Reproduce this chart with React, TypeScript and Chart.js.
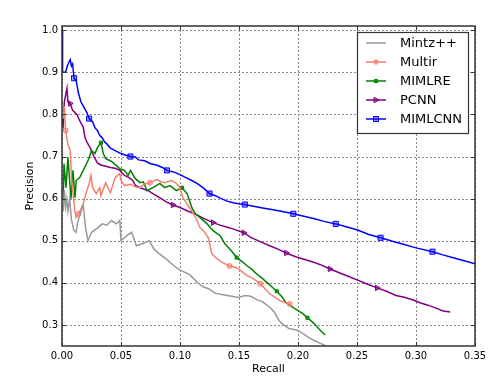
import React, { useEffect, useRef } from "react";
import { Chart, registerables } from "chart.js";

Chart.register(...registerables);

type P = [number, number];

const xTicks = [0, 0.05, 0.1, 0.15, 0.2, 0.25, 0.3, 0.35];
const yTicks = [0.3, 0.4, 0.5, 0.6, 0.7, 0.8, 0.9, 1.0];

const seriesNames = ["Mintz++", "Multir", "MIMLRE", "PCNN", "MIMLCNN"];

const mintz: P[] = [
  [0.001, 0.57], [0.002, 0.62], [0.003, 0.58], [0.004, 0.6], [0.005, 0.57], [0.0065, 0.6],
  [0.008, 0.55], [0.01, 0.525], [0.012, 0.52], [0.013, 0.54], [0.015, 0.56], [0.018, 0.585],
  [0.02, 0.53], [0.022, 0.5], [0.025, 0.52], [0.03, 0.53], [0.034, 0.54], [0.038, 0.537],
  [0.042, 0.548], [0.046, 0.54], [0.049, 0.548], [0.05, 0.5], [0.055, 0.512], [0.059, 0.52],
  [0.063, 0.488], [0.068, 0.493], [0.074, 0.5], [0.078, 0.48], [0.082, 0.47], [0.089, 0.455],
  [0.095, 0.44], [0.1, 0.43], [0.108, 0.42], [0.115, 0.4], [0.12, 0.39], [0.125, 0.385],
  [0.13, 0.375], [0.14, 0.37], [0.15, 0.365], [0.155, 0.37], [0.16, 0.368], [0.165, 0.36],
  [0.17, 0.355], [0.176, 0.342], [0.18, 0.33], [0.184, 0.31], [0.187, 0.302], [0.192, 0.292],
  [0.2, 0.287], [0.205, 0.278], [0.21, 0.268], [0.216, 0.26], [0.22, 0.255], [0.226, 0.247],
];

const multir: P[] = [
  [0.001, 0.79], [0.002, 0.82], [0.003, 0.762], [0.005, 0.73], [0.007, 0.714], [0.008, 0.65],
  [0.009, 0.62], [0.01, 0.595], [0.011, 0.57], [0.012, 0.555], [0.014, 0.564], [0.016, 0.575],
  [0.018, 0.588], [0.02, 0.61], [0.023, 0.636], [0.0245, 0.655], [0.026, 0.626], [0.029, 0.612],
  [0.032, 0.626], [0.033, 0.607], [0.037, 0.638], [0.041, 0.614], [0.045, 0.65], [0.049, 0.66],
  [0.05, 0.643], [0.053, 0.631], [0.058, 0.634], [0.062, 0.628], [0.066, 0.626], [0.07, 0.635],
  [0.0746, 0.638], [0.0805, 0.645], [0.084, 0.64], [0.087, 0.638], [0.093, 0.643], [0.097, 0.636],
  [0.1, 0.626], [0.1025, 0.602], [0.108, 0.579], [0.113, 0.557], [0.117, 0.531], [0.121, 0.52],
  [0.124, 0.507], [0.127, 0.469], [0.131, 0.458], [0.136, 0.448], [0.142, 0.44], [0.148, 0.436],
  [0.152, 0.428], [0.157, 0.417], [0.162, 0.41], [0.168, 0.398], [0.172, 0.386], [0.176, 0.374],
  [0.181, 0.365], [0.185, 0.357], [0.19, 0.352], [0.193, 0.35], [0.194, 0.345],
];

const mimlre: P[] = [
  [0.001, 0.595], [0.0017, 0.683], [0.0034, 0.626], [0.005, 0.698], [0.0076, 0.6], [0.0093, 0.667],
  [0.011, 0.602], [0.012, 0.643], [0.015, 0.65], [0.018, 0.667], [0.022, 0.69], [0.025, 0.714],
  [0.028, 0.707], [0.03, 0.721], [0.033, 0.733], [0.035, 0.707], [0.037, 0.695], [0.041, 0.69],
  [0.046, 0.679], [0.049, 0.671], [0.053, 0.667], [0.056, 0.655], [0.058, 0.667], [0.062, 0.648],
  [0.066, 0.638], [0.069, 0.64], [0.072, 0.619], [0.077, 0.626], [0.083, 0.636], [0.087, 0.626],
  [0.0915, 0.631], [0.097, 0.619], [0.1017, 0.626], [0.106, 0.612], [0.11, 0.579], [0.113, 0.564],
  [0.117, 0.555], [0.123, 0.54], [0.128, 0.524], [0.134, 0.512], [0.138, 0.493], [0.143, 0.478],
  [0.148, 0.46], [0.153, 0.45], [0.157, 0.44], [0.161, 0.432], [0.165, 0.421], [0.17, 0.41],
  [0.174, 0.4], [0.178, 0.39], [0.182, 0.38], [0.186, 0.368], [0.19, 0.352], [0.195, 0.343],
  [0.199, 0.336], [0.204, 0.327], [0.208, 0.317], [0.213, 0.305], [0.218, 0.29], [0.223, 0.276],
];

const pcnn: P[] = [
  [0, 0.79], [0.001, 0.774], [0.002, 0.83], [0.0042, 0.862], [0.005, 0.83], [0.0068, 0.826],
  [0.009, 0.81], [0.0127, 0.8], [0.015, 0.785], [0.018, 0.77], [0.0195, 0.745], [0.021, 0.735],
  [0.024, 0.72], [0.027, 0.7], [0.03, 0.685], [0.033, 0.68], [0.037, 0.677], [0.041, 0.674],
  [0.045, 0.672], [0.049, 0.667], [0.053, 0.655], [0.057, 0.65], [0.06, 0.643], [0.062, 0.632],
  [0.066, 0.626], [0.069, 0.623], [0.073, 0.619], [0.078, 0.61], [0.083, 0.602], [0.088, 0.593],
  [0.094, 0.585], [0.1, 0.579], [0.107, 0.57], [0.114, 0.562], [0.12, 0.553], [0.128, 0.543],
  [0.134, 0.537], [0.14, 0.532], [0.146, 0.527], [0.154, 0.519], [0.16, 0.508], [0.168, 0.498],
  [0.176, 0.488], [0.183, 0.48], [0.19, 0.471], [0.198, 0.462], [0.205, 0.456], [0.212, 0.45],
  [0.22, 0.442], [0.227, 0.433], [0.235, 0.424], [0.243, 0.415], [0.25, 0.407], [0.258, 0.398],
  [0.267, 0.388], [0.275, 0.38], [0.283, 0.37], [0.29, 0.366], [0.297, 0.36], [0.304, 0.352],
  [0.31, 0.347], [0.317, 0.34], [0.323, 0.333], [0.329, 0.331],
];

const mimlcnn: P[] = [
  [0, 1.0], [0.0005, 0.9], [0.003, 0.9], [0.0045, 0.915], [0.006, 0.925], [0.007, 0.93],
  [0.008, 0.915], [0.009, 0.92], [0.0102, 0.886], [0.012, 0.88], [0.014, 0.85], [0.016, 0.83],
  [0.019, 0.815], [0.021, 0.805], [0.023, 0.79], [0.026, 0.782], [0.028, 0.768], [0.03, 0.762],
  [0.032, 0.75], [0.034, 0.745], [0.036, 0.735], [0.038, 0.73], [0.041, 0.72], [0.045, 0.714],
  [0.048, 0.71], [0.05, 0.707], [0.054, 0.703], [0.058, 0.7], [0.062, 0.699], [0.065, 0.692],
  [0.07, 0.69], [0.075, 0.683], [0.08, 0.68], [0.085, 0.674], [0.089, 0.667], [0.095, 0.663],
  [0.1, 0.657], [0.105, 0.65], [0.11, 0.643], [0.115, 0.635], [0.12, 0.625], [0.125, 0.612],
  [0.13, 0.607], [0.135, 0.6], [0.14, 0.594], [0.145, 0.59], [0.15, 0.588], [0.155, 0.586],
  [0.16, 0.583], [0.17, 0.578], [0.18, 0.573], [0.188, 0.569], [0.196, 0.564], [0.205, 0.558],
  [0.214, 0.552], [0.222, 0.546], [0.232, 0.54], [0.24, 0.534], [0.25, 0.526], [0.26, 0.515],
  [0.27, 0.507], [0.28, 0.499], [0.29, 0.491], [0.3, 0.483], [0.314, 0.474], [0.322, 0.467],
  [0.33, 0.461], [0.34, 0.453], [0.35, 0.445],
];

// recall values at which a marker is drawn
const multirMarks = [0.003, 0.014, 0.0746, 0.142, 0.168, 0.193];
const mimlreMarks = [0.033, 0.1017, 0.148, 0.182, 0.208];
const pcnnMarks = [0.0068, 0.094, 0.128, 0.154, 0.19, 0.227, 0.267];
const mimlcnnMarks = [0.0102, 0.023, 0.058, 0.089, 0.125, 0.155, 0.196, 0.232, 0.27, 0.314];

const colors = ["#999999", "#f4806f", "#008000", "#800080", "#0000ff"];
const fills = [
  "rgba(153,153,153,0.5)",
  "rgba(250,128,114,0.5)",
  "rgba(0,128,0,0.5)",
  "rgba(128,0,128,0.5)",
  "rgba(0,0,255,0.4)",
];
const styles: any[] = ["line", "circle", "rect", "triangle", "rect"];
const rotations = [0, 0, 0, 90, 0];
const radii = [0, 2.5, 2.2, 3.2, 3.6];

function drawMarker(ctx: CanvasRenderingContext2D, i: number, x: number, y: number) {
  ctx.fillStyle = fills[i];
  ctx.strokeStyle = colors[i];
  ctx.lineWidth = 1;
  ctx.beginPath();
  if (styles[i] === "circle") {
    ctx.arc(x, y, 2.2, 0, Math.PI * 2);
  } else if (styles[i] === "rect") {
    const s = i === 4 ? 2.5 : 1.6;
    ctx.rect(x - s, y - s, 2 * s, 2 * s);
  } else if (styles[i] === "triangle") {
    ctx.moveTo(x + 3, y);
    ctx.lineTo(x - 2, y - 2.8);
    ctx.lineTo(x - 2, y + 2.8);
    ctx.closePath();
  }
  ctx.fill();
  ctx.stroke();
}

export default function App() {
  const ref = useRef<HTMLCanvasElement | null>(null);

  useEffect(() => {
    const canvas = ref.current;
    if (!canvas) return;
    const all = [mintz, multir, mimlre, pcnn, mimlcnn];
    const marks = [[] as number[], multirMarks, mimlreMarks, pcnnMarks, mimlcnnMarks];

    const datasets = all.map((s, i) => ({
      label: seriesNames[i],
      data: s.map(([x, y]) => ({ x, y })),
      borderColor: colors[i],
      backgroundColor: fills[i],
      pointBackgroundColor: fills[i],
      pointBorderColor: colors[i],
      pointBorderWidth: 1,
      pointStyle: i === 0 ? false : styles[i],
      pointRotation: rotations[i],
      pointRadius: (ctx: any) => {
        const raw = ctx.raw;
        if (!raw) return 0;
        return marks[i].includes(raw.x) ? radii[i] : 0;
      },
      borderWidth: 1.5,
      tension: 0,
      fill: false,
    }));

    const frame = {
      id: "frame",
      beforeDatasetsDraw(chart: any) {
        const ctx = chart.ctx as CanvasRenderingContext2D;
        const a = chart.chartArea;
        const sx = chart.scales.x;
        const sy = chart.scales.y;
        ctx.save();
        ctx.strokeStyle = "#8a8a8a";
        ctx.lineWidth = 1;
        ctx.setLineDash([2, 2]);
        for (const v of xTicks) {
          const x = Math.round(sx.getPixelForValue(v)) + 0.5;
          ctx.beginPath();
          ctx.moveTo(x, a.top);
          ctx.lineTo(x, a.bottom);
          ctx.stroke();
        }
        for (const v of yTicks) {
          const y = Math.round(sy.getPixelForValue(v)) + 0.5;
          ctx.beginPath();
          ctx.moveTo(a.left, y);
          ctx.lineTo(a.right, y);
          ctx.stroke();
        }
        ctx.restore();
      },
      afterDatasetsDraw(chart: any) {
        const ctx = chart.ctx as CanvasRenderingContext2D;
        const a = chart.chartArea;
        const sx = chart.scales.x;
        const sy = chart.scales.y;
        ctx.save();
        ctx.setLineDash([]);
        ctx.strokeStyle = "#333";
        ctx.lineWidth = 1.5;
        ctx.strokeRect(a.left, a.top, a.right - a.left, a.bottom - a.top);
        ctx.lineWidth = 1;
        for (const v of xTicks) {
          const x = Math.round(sx.getPixelForValue(v)) + 0.5;
          ctx.beginPath();
          ctx.moveTo(x, a.bottom);
          ctx.lineTo(x, a.bottom - 4);
          ctx.moveTo(x, a.top);
          ctx.lineTo(x, a.top + 4);
          ctx.stroke();
        }
        for (const v of yTicks) {
          const y = Math.round(sy.getPixelForValue(v)) + 0.5;
          ctx.beginPath();
          ctx.moveTo(a.left, y);
          ctx.lineTo(a.left + 4, y);
          ctx.moveTo(a.right, y);
          ctx.lineTo(a.right - 4, y);
          ctx.stroke();
        }

        // legend
        const lx = 357.5, ly = 32.5, lw = 111, lh = 101;
        ctx.fillStyle = "#ffffff";
        ctx.fillRect(lx, ly, lw, lh);
        ctx.strokeStyle = "#333";
        ctx.lineWidth = 1.2;
        ctx.strokeRect(lx, ly, lw, lh);
        ctx.font = '13px "DejaVu Sans"';
        ctx.textBaseline = "middle";
        ctx.textAlign = "left";
        seriesNames.forEach((name, i) => {
          const y = 43 + i * 19;
          ctx.strokeStyle = colors[i];
          ctx.lineWidth = 1.5;
          ctx.beginPath();
          ctx.moveTo(366, y);
          ctx.lineTo(386, y);
          ctx.stroke();
          if (i > 0) drawMarker(ctx, i, 376, y);
          ctx.fillStyle = "#000";
          ctx.fillText(name, 400, y + 1);
        });
        ctx.restore();
      },
    };

    const chart = new Chart(canvas, {
      type: "line",
      data: { datasets } as any,
      options: {
        animation: false,
        responsive: false,
        events: [],
        layout: { padding: { left: 0, right: 18, top: 26, bottom: 0 } },
        plugins: { legend: { display: false }, tooltip: { enabled: false } },
        scales: {
          x: {
            type: "linear",
            min: 0,
            max: 0.35,
            grid: { display: false, drawTicks: false },
            border: { display: false },
            afterBuildTicks: (s: any) => {
              s.ticks = xTicks.map((v) => ({ value: v }));
            },
            afterFit: (s: any) => {
              s.height = 31;
            },
            ticks: {
              padding: 4,
              color: "#000",
              font: { family: "DejaVu Sans", size: 10 },
              callback: (v: any) => Number(v).toFixed(2),
              maxRotation: 0,
            },
            title: {
              display: true,
              text: "Recall",
              color: "#000",
              font: { family: "DejaVu Sans", size: 11 },
              padding: { top: 0, bottom: 1 },
            },
          },
          y: {
            type: "linear",
            min: 0.25,
            max: 1.01,
            grid: { display: false, drawTicks: false },
            border: { display: false },
            afterBuildTicks: (s: any) => {
              s.ticks = yTicks.map((v) => ({ value: v }));
            },
            afterFit: (s: any) => {
              s.width = 62;
            },
            ticks: {
              padding: 4,
              color: "#000",
              font: { family: "DejaVu Sans", size: 10 },
              callback: (v: any) => Number(v).toFixed(1),
            },
            title: {
              display: true,
              text: "Precision",
              color: "#000",
              font: { family: "DejaVu Sans", size: 11 },
              padding: { top: 24, bottom: 0 },
            },
          },
        },
      } as any,
      plugins: [frame],
    });

    return () => chart.destroy();
  }, []);

  return (
    <div style={{ position: "fixed", left: 0, top: 0, width: 493, height: 377, background: "#fff" }}>
      <canvas ref={ref} width={493} height={377} />
    </div>
  );
}
